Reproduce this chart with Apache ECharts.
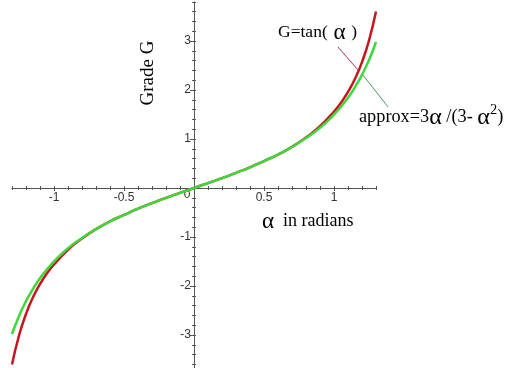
<!DOCTYPE html>
<html lang="en">
<head>
    <meta charset="UTF-8">
    <title>tan approximation</title>
    <script src="https://cdn.jsdelivr.net/npm/echarts@6/dist/echarts.min.js"></script>
    <style>
        html, body { margin: 0; padding: 0; background: #fff; }
        #chart { width: 506px; height: 368px; }
    </style>
</head>
<body>
<div id="chart"></div>
<script type="text/javascript">
    // angle in radians
    var alpha = [-1.3, -1.25, -1.2, -1.15, -1.1, -1.05, -1.0, -0.9, -0.8, -0.7, -0.6, -0.5, -0.4, -0.3, -0.2, -0.1,
        0, 0.1, 0.2, 0.3, 0.4, 0.5, 0.6, 0.7, 0.8, 0.9, 1.0, 1.05, 1.1, 1.15, 1.2, 1.25, 1.3];
    // G = tan(alpha)
    var gradeTan = [-3.60, -3.01, -2.57, -2.23, -1.96, -1.74, -1.56, -1.26, -1.03, -0.84, -0.68, -0.55, -0.42, -0.31, -0.20, -0.10,
        0, 0.10, 0.20, 0.31, 0.42, 0.55, 0.68, 0.84, 1.03, 1.26, 1.56, 1.74, 1.96, 2.23, 2.57, 3.01, 3.60];
    // approx = 3a/(3-a^2)
    var gradeApprox = [-2.98, -2.61, -2.31, -2.06, -1.84, -1.66, -1.50, -1.23, -1.02, -0.84, -0.68, -0.55, -0.42, -0.31, -0.20, -0.10,
        0, 0.10, 0.20, 0.31, 0.42, 0.55, 0.68, 0.84, 1.02, 1.23, 1.50, 1.66, 1.84, 2.06, 2.31, 2.61, 2.98];
    var xLabels = [-1, -0.5, 0, 0.5, 1];
    var yLabels = [-3, -2, -1, 1, 2, 3];

    function pairs(xs, ys) {
        var out = [];
        for (var i = 0; i < xs.length; i++) out.push([xs[i], ys[i]]);
        return out;
    }

    var axisColor = '#555';
    var serif = '"Liberation Serif", "DejaVu Serif", serif';
    var sans = '"Liberation Sans", Arial, sans-serif';

    // grid: x -1.3..1.3 over 364px, y -3.8..3.8 over 372.4px
    var gridLeft = 12, gridWidth = 364, gridTop = 1.8, gridHeight = 372.4;
    // shift axes from the grid edges onto the zero lines
    var xOffset = -(gridHeight / 2);
    var yOffset = -(gridWidth / 2);

    function xAx(extra) {
        var a = {
            type: 'value', min: -1.3, max: 1.3, interval: 0.1,
            position: 'bottom', offset: xOffset,
            axisLine: {show: false, onZero: false},
            axisTick: {show: true, length: 2, lineStyle: {color: axisColor}},
            axisLabel: {show: false},
            splitLine: {show: false}
        };
        return Object.assign(a, extra);
    }

    function yAx(extra) {
        var a = {
            type: 'value', min: -3.8, max: 3.8, interval: 0.2,
            position: 'left', offset: yOffset,
            axisLine: {show: false, onZero: false},
            axisTick: {show: true, length: 2, lineStyle: {color: axisColor}},
            axisLabel: {show: false},
            splitLine: {show: false}
        };
        return Object.assign(a, extra);
    }

    var option = {
        animation: false,
        grid: {
            left: gridLeft, width: gridWidth, top: gridTop, height: gridHeight,
            containLabel: false, outerBoundsMode: 'none'
        },
        xAxis: [
            xAx({
                axisLine: {show: true, onZero: false, lineStyle: {color: axisColor, width: 1}},
                axisLabel: {
                    show: true, customValues: xLabels, margin: 1,
                    formatter: function (v) {
                        return v === 0 ? '{z|0}' : '{n|' + v + '}';
                    },
                    rich: {
                        n: {fontSize: 12, color: '#333', fontFamily: sans, padding: [3, 0, 0, 0]},
                        z: {fontSize: 12, color: '#333', fontFamily: sans, padding: [0, 14, 0, 0]}
                    }
                }
            }),
            xAx({axisTick: {show: true, inside: true, length: 2, lineStyle: {color: axisColor}}}),
            xAx({axisTick: {show: true, length: 3, customValues: [-1, -0.5, 0.5, 1], lineStyle: {color: axisColor}}})
        ],
        yAxis: [
            yAx({
                axisLine: {show: true, onZero: false, lineStyle: {color: axisColor, width: 1}},
                axisLabel: {
                    show: true, customValues: yLabels, margin: 3,
                    fontSize: 12, color: '#333', fontFamily: sans
                }
            }),
            yAx({axisTick: {show: true, inside: true, length: 2, lineStyle: {color: axisColor}}}),
            yAx({axisTick: {show: true, length: 4, customValues: yLabels, lineStyle: {color: axisColor}}})
        ],
        series: [
            {
                name: 'tan',
                type: 'line',
                data: pairs(alpha, gradeTan),
                smooth: true,
                showSymbol: false,
                clip: false,
                lineStyle: {color: '#c4161e', width: 2.5}
            },
            {
                name: 'approx',
                type: 'line',
                data: pairs(alpha, gradeApprox),
                smooth: true,
                showSymbol: false,
                clip: false,
                lineStyle: {color: '#3fd83a', width: 2.5}
            }
        ],
        graphic: [
            {
                type: 'text', left: 278, top: 21,
                style: {
                    text: '{a|G=tan(}{g| α }{a|)}',
                    rich: {
                        a: {fontSize: 17.5, fontFamily: serif, fill: '#000', lineHeight: 26},
                        g: {fontSize: 23, fontFamily: serif, fill: '#000', lineHeight: 26}
                    }
                }
            },
            {
                type: 'text', left: 359, top: 103,
                style: {
                    text: '{a|approx=3}{g|α}{a| /(3- }{g|α}{s|2}{a|)}',
                    rich: {
                        a: {fontSize: 18.3, fontFamily: serif, fill: '#000', lineHeight: 29},
                        g: {fontSize: 24, fontFamily: serif, fill: '#000', lineHeight: 29},
                        s: {fontSize: 14.5, fontFamily: serif, fill: '#000', lineHeight: 29, verticalAlign: 'top'}
                    }
                }
            },
            {
                type: 'text', left: 262, top: 210,
                style: {
                    text: '{g|α}{a|  in radians}',
                    rich: {
                        a: {fontSize: 18, fontFamily: serif, fill: '#000', lineHeight: 26},
                        g: {fontSize: 23, fontFamily: serif, fill: '#000', lineHeight: 26}
                    }
                }
            },
            {
                type: 'text', x: 148, y: 73, rotation: Math.PI / 2,
                style: {
                    text: 'Grade G', fontSize: 19, fontFamily: serif, fill: '#000',
                    align: 'center', verticalAlign: 'middle'
                }
            },
            {
                type: 'line', shape: {x1: 338, y1: 47, x2: 358, y2: 70},
                style: {stroke: '#a83a48', lineWidth: 1}
            },
            {
                type: 'line', shape: {x1: 363, y1: 75, x2: 388, y2: 107},
                style: {stroke: '#3aa060', lineWidth: 1}
            }
        ]
    };

    var myChart = echarts.init(document.getElementById('chart'));
    myChart.setOption(option);
</script>
</body>
</html>
